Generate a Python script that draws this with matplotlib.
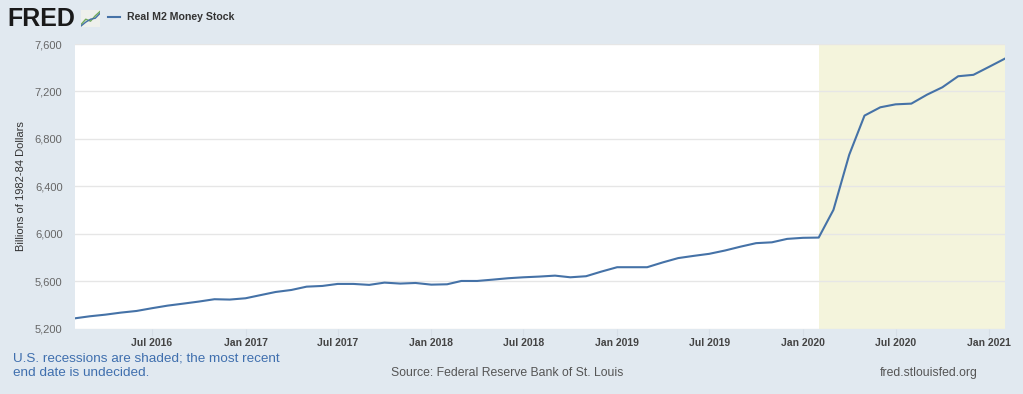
#!/usr/bin/env python3
"""
Real M2 Money Stock, FRED-style chart
"""
import matplotlib
matplotlib.use("Agg")
import matplotlib.pyplot as plt
import matplotlib.dates as mdates
import numpy as np
import pandas as pd

# monthly data, Feb 2016 .. Feb 2021 (billions of 1982-84 dollars)
dates = pd.date_range("2016-02-01", "2021-02-01", freq="MS")
m2_real = [
    5286, 5303, 5317, 5334, 5348, 5371, 5393, 5410, 5427, 5447, 5444, 5455,
    5483, 5508, 5525, 5553, 5559, 5576, 5576, 5568, 5587, 5579, 5584, 5570,
    5573, 5601, 5601, 5612, 5624, 5632, 5638, 5646, 5632, 5641, 5680, 5717,
    5717, 5717, 5758, 5794, 5813, 5830, 5858, 5891, 5920, 5927, 5956, 5965,
    5967, 6201, 6666, 6996, 7066, 7091, 7097, 7173, 7235, 7328, 7340, 7408,
    7477,
]
recession_start = pd.Timestamp("2020-02-01")
y_ticks = [5200, 5600, 6000, 6400, 6800, 7200, 7600]

BG = "#e1e9f0"
LINE = "#4572a7"

plt.rcParams["font.family"] = ["Liberation Sans", "DejaVu Sans"]

fig = plt.figure(figsize=(10.23, 3.94), dpi=100, facecolor=BG)
ax = fig.add_axes([75 / 1023, 1 - 328.5 / 394, 930 / 1023, 284.5 / 394])
ax.set_facecolor("white")

ax.axvspan(recession_start, dates[-1], color="#f4f4dc", zorder=0, lw=0)
ax.plot(dates, m2_real, color=LINE, linewidth=1.5, zorder=3)

ax.set_xlim(dates[0], dates[-1])
ax.set_ylim(5200, 7600)
ax.set_yticks(y_ticks)
ax.set_yticklabels([f"{v:,}" for v in y_ticks], fontsize=8, color="#666666")
ax.yaxis.grid(True, color="#e6e6e6", linewidth=1)
ax.set_axisbelow(True)
ax.tick_params(axis="y", length=0, pad=9)

ax.xaxis.set_major_locator(mdates.MonthLocator(bymonth=[1, 7]))
ax.xaxis.set_major_formatter(mdates.DateFormatter("%b %Y"))
ax.tick_params(axis="x", length=5, color="#d6dee7", labelsize=7.5,
               labelcolor="#444444", pad=2)
for lbl in ax.get_xticklabels():
    lbl.set_fontweight("bold")
for s in ax.spines.values():
    s.set_visible(False)

ax.set_ylabel("Billions of 1982-84 Dollars", fontsize=8, color="#333333", labelpad=6)

# header
fig.text(7 / 1023, 1 - 18.5 / 394, "FRED", fontsize=18, fontweight="bold",
         color="#1a1a1a", va="center", ha="left")
icon = fig.add_axes([81 / 1023, 1 - 27 / 394, 19 / 1023, 17 / 394])
icon.set_facecolor("#eef0ec")
icon.plot([0, 1, 2, 3, 4], [0.5, 1.6, 1.2, 2.3, 3.2], color="#6fa85a", lw=1)
icon.plot([0, 1, 2, 3, 4], [0.2, 1.0, 1.6, 1.8, 2.8], color="#4572a7", lw=1)
icon.set_xlim(0, 4)
icon.set_ylim(0, 3.5)
icon.set_xticks([])
icon.set_yticks([])
for s in icon.spines.values():
    s.set_visible(False)
fig.lines.append(plt.Line2D([108 / 1023, 120 / 1023], [1 - 17 / 394, 1 - 17 / 394],
                            transform=fig.transFigure, color=LINE, lw=1.5))
fig.text(127 / 1023, 1 - 17 / 394, "Real M2 Money Stock", fontsize=7.6,
         fontweight="bold", color="#333333", va="center", ha="left")

# footer
fig.text(13 / 1023, 1 - 365.5 / 394,
         "U.S. recessions are shaded; the most recent\nend date is undecided.",
         fontsize=9.7, color="#3f6fae", va="center", ha="left", linespacing=1.3)
fig.text(391 / 1023, 1 - 373 / 394, "Source: Federal Reserve Bank of St. Louis",
         fontsize=8.8, color="#555555", va="center", ha="left")
fig.text(978 / 1023, 1 - 373 / 394, "fred.stlouisfed.org",
         fontsize=8.8, color="#555555", va="center", ha="right")

fig.savefig("out.png", dpi=100, facecolor=BG)
